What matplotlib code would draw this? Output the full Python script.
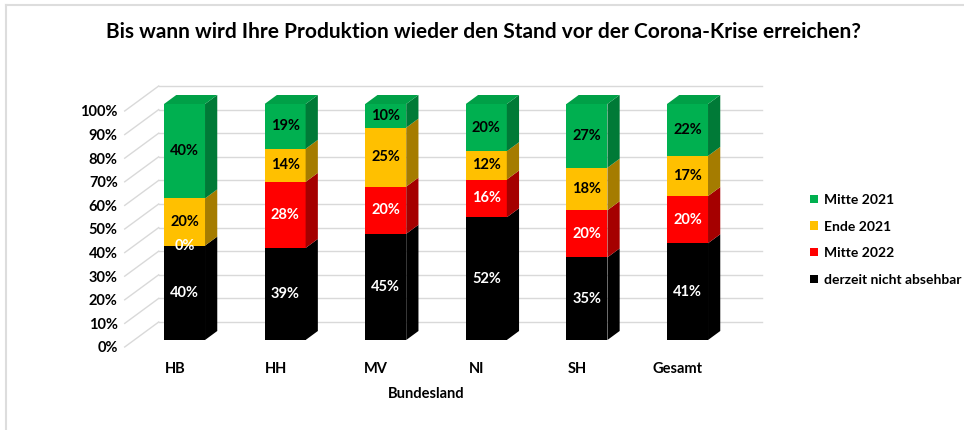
import matplotlib.pyplot as plt
from matplotlib.patches import Polygon, Patch
from matplotlib.lines import Line2D
import numpy as np

plt.rcParams['font.family'] = ['Lato', 'DejaVu Sans']
plt.rcParams['font.weight'] = 'bold'

# data (percent), stacked from bottom to top
laender = ['HB', 'HH', 'MV', 'NI', 'SH', 'Gesamt']
nicht_absehbar = [40, 39, 45, 52, 35, 41]
mitte_2022 = [0, 28, 20, 16, 20, 20]
ende_2021 = [20, 14, 25, 12, 18, 17]
mitte_2021 = [40, 19, 10, 20, 27, 22]

series = [
    ('derzeit nicht absehbar', nicht_absehbar, '#000000', '#000000', 'white'),
    ('Mitte 2022', mitte_2022, '#FF0000', '#A50000', 'white'),
    ('Ende 2021', ende_2021, '#FFC000', '#A57C00', 'black'),
    ('Mitte 2021', mitte_2021, '#00B050', '#007A37', 'black'),
]
top_green = '#00A047'

W, H = 964, 430
fig = plt.figure(figsize=(W / 100, H / 100), dpi=100)

# front plane: x -0.5..5.5 -> px 124.7..728.3, y 0..100 -> px 347..111
left_px, right_px, bot_px, top_px = 124.7, 728.3, 347, 111
ax = fig.add_axes([left_px / W, (H - bot_px) / H,
                   (right_px - left_px) / W, (bot_px - top_px) / H])
ax.set_xlim(-0.5, 5.5)
ax.set_ylim(0, 100)

# 3d depth vector of the whole floor (data units)
dx_wall = 34 / 100.6
dy_wall = 25 / 2.36
f1, f2 = 0.28, 0.64   # bar front / back depth fraction
bw = 41 / 100.6

grid_c = '#D9D9D9'
for v in range(0, 101, 10):
    ax.plot([-0.5, -0.5 + dx_wall], [v, v + dy_wall], color=grid_c, lw=1.0,
            zorder=0, clip_on=False)
    ax.plot([-0.5 + dx_wall, 5.5 + dx_wall], [v + dy_wall, v + dy_wall],
            color=grid_c, lw=1.0, zorder=0, clip_on=False)

x = np.arange(len(laender))
fx = x + f1 * dx_wall
ddx = (f2 - f1) * dx_wall
ddy = (f2 - f1) * dy_wall
bottom = np.zeros(len(laender))
for name, vals, c_front, c_side, c_txt in series:
    vals = np.array(vals, dtype=float)
    ax.bar(fx, vals, bw, bottom=bottom + f1 * dy_wall, color=c_front,
           edgecolor='none', zorder=2, clip_on=False)
    for i in range(len(laender)):
        y0 = bottom[i] + f1 * dy_wall
        y1 = y0 + vals[i]
        xr = fx[i] + bw / 2
        if vals[i] > 0:
            side = Polygon([(xr, y0), (xr + ddx, y0 + ddy),
                            (xr + ddx, y1 + ddy), (xr, y1)],
                           closed=True, facecolor=c_side, edgecolor='none',
                           zorder=2, clip_on=False)
            ax.add_patch(side)
        ax.text(fx[i], (y0 + y1) / 2, '{:.0f}%'.format(vals[i]),
                ha='center', va='center', color=c_txt, fontsize=10.5,
                fontweight='bold', zorder=4)
    bottom = bottom + vals

# top faces
for i in range(len(laender)):
    yt = bottom[i] + f1 * dy_wall
    xl = fx[i] - bw / 2
    xr = fx[i] + bw / 2
    top = Polygon([(xl, yt), (xr, yt), (xr + ddx, yt + ddy),
                   (xl + ddx, yt + ddy)], closed=True,
                  facecolor=top_green, edgecolor='none', zorder=2,
                  clip_on=False)
    ax.add_patch(top)

for s in ax.spines.values():
    s.set_visible(False)
ax.set_yticks(range(0, 101, 10))
ax.set_yticklabels(['{}%'.format(v) for v in range(0, 101, 10)])
ax.set_xticks(x)
ax.set_xticklabels(laender)
ax.tick_params(axis='y', length=0, pad=5, labelsize=10.5)
ax.tick_params(axis='x', length=0, pad=11, labelsize=10.5)
ax.set_xlabel('Bundesland', fontsize=10.5, fontweight='bold', labelpad=8)

handles = [Patch(facecolor=s[2], edgecolor='none', label=s[0])
           for s in reversed(series)]
fig.legend(handles=handles, loc='upper left',
           bbox_to_anchor=(810 / W, (H - 194) / H), frameon=False,
           fontsize=10, handlelength=0.55, handleheight=0.55,
           handletextpad=0.45, labelspacing=1.05, borderpad=0,
           borderaxespad=0)

fig.text(483 / W, (H - 32) / H,
         'Bis wann wird Ihre Produktion wieder den Stand vor der Corona-Krise erreichen?',
         ha='center', va='center', fontsize=15, fontweight='bold')

# light frame on left and top edge
fig.add_artist(Line2D([6 / W, 6 / W], [0, (H - 5) / H], color='#DDDDDD', lw=1.5))
fig.add_artist(Line2D([6 / W, 1], [(H - 5) / H, (H - 5) / H], color='#DDDDDD', lw=1.5))

fig.savefig('out.png', dpi=100)
